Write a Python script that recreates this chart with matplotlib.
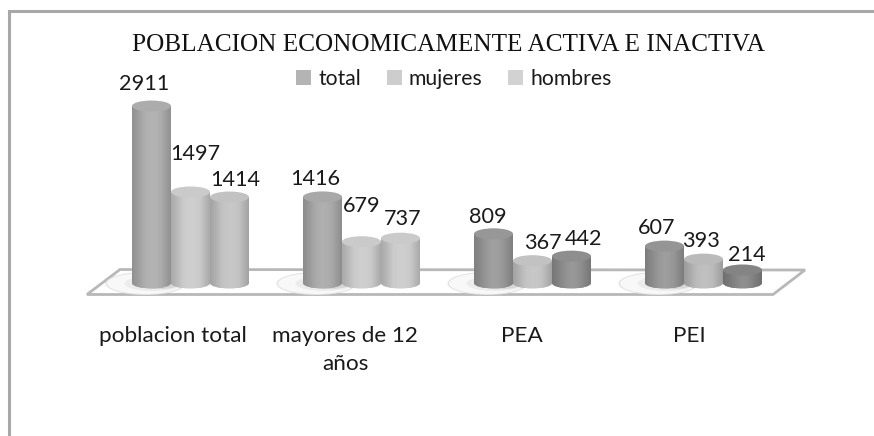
import matplotlib.pyplot as plt
import numpy as np
from matplotlib.patches import Ellipse, PathPatch, Patch, Polygon
from matplotlib.path import Path
from matplotlib.colors import LinearSegmentedColormap

categories = ['poblacion total', 'mayores de 12\naños', 'PEA', 'PEI']
series = ['total', 'mujeres', 'hombres']
total = [2911, 1416, 809, 607]
mujeres = [1497, 679, 367, 393]
hombres = [1414, 737, 442, 214]

# grey per bar, the source is a desaturated colour chart
shades = {
    'total': ['#acacac', '#a8a8a8', '#979797', '#959595'],
    'mujeres': ['#cacaca', '#cacaca', '#c2c2c2', '#bababa'],
    'hombres': ['#c2c2c2', '#cacaca', '#8e8e8e', '#848484'],
}
legend_colors = ['#b4b4b4', '#cdcdcd', '#d2d2d2']

W, H = 874, 436
px_per_unit = 0.0608
zero_px = 283
group_px = 171
first_px = 190.5
bar_w = 39 / group_px
cap_h = 11 / px_per_unit

plt.rcParams['font.family'] = ['Lato', 'DejaVu Sans']
fig = plt.figure(figsize=(W / 100, H / 100), dpi=100)

# page furniture in pixel coordinates
bg = fig.add_axes([0, 0, 1, 1], zorder=0)
bg.set_xlim(0, W)
bg.set_ylim(H, 0)
bg.axis('off')
bg.plot([8.5, 8.5, W], [H, 11, 11], color='#a8a8a8', lw=2.2, solid_joinstyle='miter')
bg.add_patch(Polygon([(87, 294.5), (120, 269.5), (805, 270), (773, 294.5)], closed=True,
                     fc='white', ec='#b8b8b8', lw=2))
for cx in [first_px + group_px * i - 45 for i in range(4)]:
    for w, h, c, dx in [(80, 23, '#e2e2e2', 0), (77, 21, '#f8f8f8', 0), (58, 15, '#ececec', 8), (42, 11, '#d6d6d6', 14)]:
        bg.add_patch(Ellipse((cx + dx, 283.5), w, h, fc=c, ec='none'))

ax = fig.add_axes([0, 0, 1, 1], zorder=1)
ax.patch.set_visible(False)
ax.set_xlim(-first_px / group_px, (W - first_px) / group_px)
ax.set_ylim(-(H - zero_px) / px_per_unit, zero_px / px_per_unit)
for sp in ax.spines.values():
    sp.set_visible(False)
ax.spines['bottom'].set_position(('data', 0))
ax.set_yticks([])
ax.set_xticks(np.arange(4) - np.array([0.10, 0.095, 0.065, 0.082]))
ax.set_xticklabels(categories, fontsize=16.2, color='#1a1a1a', linespacing=1.5)
ax.tick_params(axis='x', length=0, pad=31)

# shading across a cylinder: dark edges, lighter middle
profile = np.array([0.84, 0.9, 0.97, 1.04, 1.09, 1.07, 1.0, 0.92, 0.84])
profile = np.interp(np.linspace(0, 8, 64), np.arange(9), profile)


def draw_cylinder(x, value, color, order):
    left = x - bar_w / 2
    right = x + bar_w / 2
    k = 0.5523
    rx = bar_w / 2
    ry = cap_h / 2
    verts = [(left, value), (left, 0),
             (left, -k * ry), (x - k * rx, -ry), (x, -ry),
             (x + k * rx, -ry), (right, -k * ry), (right, 0),
             (right, value), (left, value)]
    codes = [Path.MOVETO, Path.LINETO, Path.CURVE4, Path.CURVE4, Path.CURVE4,
             Path.CURVE4, Path.CURVE4, Path.CURVE4, Path.LINETO, Path.CLOSEPOLY]
    body = PathPatch(Path(verts, codes), fc=color, ec='none', zorder=order)
    ax.add_patch(body)
    cm = LinearSegmentedColormap.from_list('c', ['#000000', color, '#ffffff'])
    im = ax.imshow(np.clip(profile * 0.5, 0, 1)[None, :], extent=(left, right, -ry, value),
                   aspect='auto', cmap=cm, vmin=0, vmax=1, zorder=order, interpolation='bilinear')
    im.set_clip_path(body)
    ax.add_patch(Ellipse((x, value), bar_w, cap_h, fc=color, ec='none', zorder=order + 0.1))


values = [total, mujeres, hombres]
for i in range(4):
    for j, name in enumerate(series):
        x = i + (j - 1) * bar_w
        draw_cylinder(x, values[j][i], shades[name][i], 2 + j)

label_dx = [[-7, 5, 6], [-7, 0, 2], [-6, 10, 12], [-8, -2, 4]]
label_dy = [[8, 24, 3], [4, 22, 5], [3, 4, 3], [4, 4, 1]]
for i in range(4):
    for j in range(3):
        x = i + (j - 1) * bar_w
        ax.annotate(str(values[j][i]), (x, values[j][i]), xytext=(label_dx[i][j] * 0.72, (label_dy[i][j] + 4) * 0.72),
                    textcoords='offset points', ha='center', va='bottom', fontsize=15.6,
                    color='#1a1a1a', zorder=10)

fig.text(449 / W, 1 - 45 / H, 'POBLACION ECONOMICAMENTE ACTIVA E INACTIVA', family='Liberation Serif',
         fontsize=18.2, color='#111111', ha='center', va='center')
handles = [Patch(fc=c, ec='none') for c in legend_colors]
ax.legend(handles, series, ncol=3, loc='center', bbox_to_anchor=(454 / W, 1 - 79 / H), frameon=False,
          fontsize=15.2, handlelength=0.7, handleheight=0.7, handletextpad=0.35, columnspacing=1.2,
          labelcolor='#1a1a1a')

fig.savefig('out.png', dpi=100)
